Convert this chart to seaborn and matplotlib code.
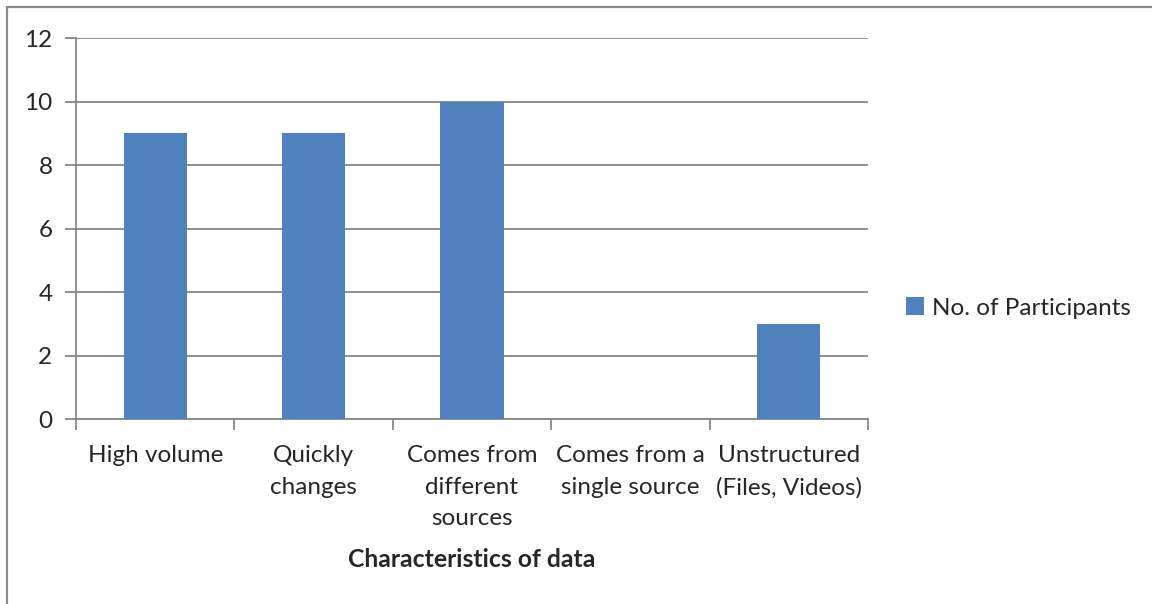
import matplotlib
matplotlib.use("Agg")
import matplotlib.pyplot as plt
from matplotlib.patches import Patch, Rectangle
import seaborn as sns
import pandas as pd

categories = ["High volume", "Quickly\nchanges", "Comes from\ndifferent\nsources",
              "Comes from a\nsingle source", "Unstructured\n(Files, Videos)"]
participants = [9, 9, 10, 0, 3]
y_ticks = [0, 2, 4, 6, 8, 10, 12]
series_name = "No. of Participants"
x_title = "Characteristics of data"

bar_color = "#4F81BD"
line_gray = "#878787"

sns.set_style("white")
plt.rcParams["font.family"] = ["Lato", "DejaVu Sans"]

W, H = 1152, 604
fig = plt.figure(figsize=(W / 100, H / 100), dpi=100)
fig.patch.set_facecolor("white")

# outer chart frame
fig.patches.append(Rectangle((7 / W, -0.1), 1.2, 1 - 7 / H + 0.1, transform=fig.transFigure,
                             fill=False, edgecolor="#8c8c8c", linewidth=1.6))

ax = fig.add_axes([76 / W, 1 - 419 / H, (868 - 76) / W, (419 - 38) / H])

df = pd.DataFrame({"category": categories, "value": participants})
sns.barplot(data=df, x="category", y="value", color=bar_color, width=0.4,
            saturation=1, ax=ax, zorder=3)
for p in ax.patches:
    p.set_edgecolor("none")

ax.set_ylim(0, 12)
ax.set_xlim(-0.5, len(categories) - 0.5)
ax.set_yticks(y_ticks)
ax.set_yticklabels([str(v) for v in y_ticks], fontsize=17.5)
ax.yaxis.grid(True, color=line_gray, linewidth=1.3, zorder=0)
ax.set_axisbelow(True)

# category ticks sit on the boundaries between bars
ax.set_xticks(range(len(categories)))
ax.set_xticklabels(categories, fontsize=17.5, linespacing=1.62)
ax.set_xticks([i - 0.5 for i in range(len(categories) + 1)], minor=True)
ax.tick_params(axis="x", which="major", bottom=True, length=0, pad=19)
ax.tick_params(axis="x", which="minor", bottom=True, length=8, width=1.3,
               color=line_gray, direction="out")
ax.tick_params(axis="y", left=True, length=8, width=1.3, color=line_gray,
               direction="out", pad=9)

for side in ["top", "right"]:
    ax.spines[side].set_visible(False)
for side in ["left", "bottom"]:
    ax.spines[side].set_color(line_gray)
    ax.spines[side].set_linewidth(1.3)

ax.set_ylabel("")
ax.set_xlabel(x_title, fontsize=17.8, fontweight="bold", labelpad=13)

fig.legend(handles=[Patch(facecolor=bar_color, edgecolor="none", label=series_name)],
           loc="center left", bbox_to_anchor=(906 / W, 1 - 308 / H), frameon=False,
           fontsize=17.5, handlelength=0.72, handleheight=0.72, handletextpad=0.35,
           borderpad=0, borderaxespad=0)

fig.savefig("out.png", dpi=100, facecolor="white")
